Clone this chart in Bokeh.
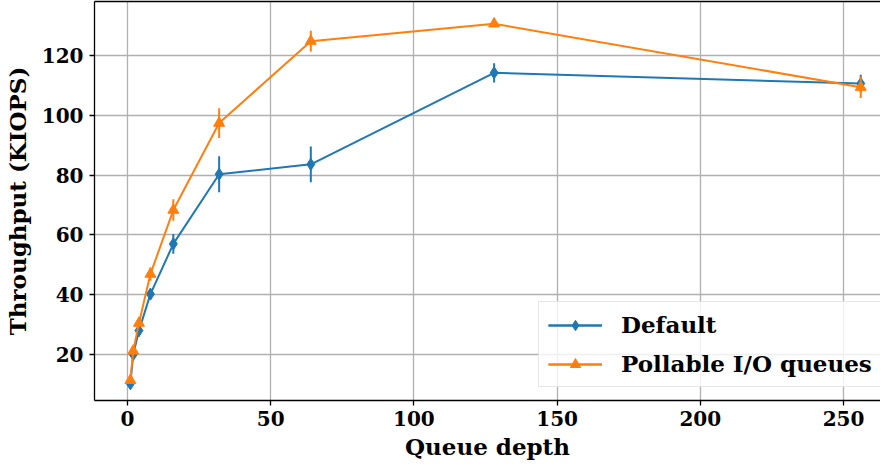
from bokeh.plotting import figure
from bokeh.models import (ColumnDataSource, Range1d, LinearAxis, FixedTicker,
                          Legend, LegendItem)
from bokeh.embed import file_html
from bokeh.resources import INLINE

queue_depth = [1, 2, 4, 8, 16, 32, 64, 128, 256]
default_kiops = [10.2, 20.0, 28.0, 40.2, 57.0, 80.3, 83.6, 114.2, 110.6]
default_err = [1.0, 1.5, 2.0, 1.8, 3.3, 6.0, 6.0, 3.2, 3.0]
pollable_kiops = [11.4, 21.2, 30.5, 46.9, 68.3, 97.4, 124.8, 130.6, 109.4]
pollable_err = [1.0, 1.5, 1.5, 2.2, 3.6, 5.0, 3.5, 1.0, 3.6]
series_names = ["Default", "Pollable I/O queues"]
x_ticks = [0, 50, 100, 150, 200, 250]
y_ticks = [20, 40, 60, 80, 100, 120]

FONT = "DejaVu Serif"
TICK_FS = "20px"
LABEL_FS = "23px"
BLUE = "#1f77b4"
ORANGE = "#ff7f0e"

p = figure(width=880, height=462, output_backend="svg", toolbar_location=None,
           x_range=Range1d(-11.52, 262.9), y_range=Range1d(4.62, 138.06),
           min_border_left=94, min_border_right=0, min_border_top=1,
           min_border_bottom=62)
p.outline_line_color = None

for ax in (p.xaxis[0], p.yaxis[0]):
    ax.axis_line_width = 1.3
    ax.axis_line_color = "black"
    ax.major_tick_line_color = "black"
    ax.major_tick_line_width = 1.3
    ax.major_tick_out = 5
    ax.major_tick_in = 0
    ax.minor_tick_line_color = None
    ax.major_label_text_font = FONT
    ax.major_label_text_font_style = "bold"
    ax.major_label_text_font_size = TICK_FS
    ax.major_label_text_color = "black"
    ax.axis_label_text_font = FONT
    ax.axis_label_text_font_style = "bold"
    ax.axis_label_text_font_size = LABEL_FS
    ax.axis_label_text_color = "black"
p.xaxis[0].ticker = FixedTicker(ticks=x_ticks)
p.yaxis[0].ticker = FixedTicker(ticks=y_ticks)
p.xaxis[0].axis_label = "Queue depth"
p.yaxis[0].axis_label = "Throughput (KIOPS)"
p.xaxis[0].major_label_standoff = 5
p.yaxis[0].major_label_standoff = 6
p.xaxis[0].axis_label_standoff = 4
p.yaxis[0].axis_label_standoff = 8

top = LinearAxis(ticker=FixedTicker(ticks=[]), axis_line_color="black",
                 axis_line_width=1.3, major_tick_line_color=None,
                 minor_tick_line_color=None)
p.add_layout(top, "above")

p.xgrid.ticker = FixedTicker(ticks=x_ticks)
p.ygrid.ticker = FixedTicker(ticks=y_ticks)
p.grid.grid_line_color = "#b0b0b0"
p.grid.grid_line_width = 1.3

items = []
for name, ys, errs, color, marker in [
        (series_names[0], default_kiops, default_err, BLUE, "diamond"),
        (series_names[1], pollable_kiops, pollable_err, ORANGE, "triangle")]:
    src = ColumnDataSource(dict(
        x=queue_depth, y=ys,
        lo=[v - e for v, e in zip(ys, errs)],
        hi=[v + e for v, e in zip(ys, errs)]))
    ln = p.line("x", "y", source=src, line_color=color, line_width=2)
    seg = p.segment("x", "lo", "x", "hi", source=src, line_color=color,
                    line_width=2)
    sc = p.scatter("x", "y", source=src, marker=marker,
                   size=12 if marker == "diamond" else 11,
                   fill_color=color, line_color=color)
    # legend-only proxy (NaN position: never drawn in the plot) giving the
    # vertical error-bar tick of the legend glyph
    proxy = ColumnDataSource(dict(x=[float("nan")]))
    bar = p.vspan(x="x", source=proxy, line_color=color, line_width=2)
    items.append(LegendItem(label=name, renderers=[ln, bar, sc]))

legend = Legend(items=items, location=(444, 13))
legend.label_text_font = FONT
legend.label_text_font_style = "bold"
legend.label_text_font_size = LABEL_FS
legend.label_text_color = "black"
legend.glyph_width = 54
legend.glyph_height = 26
legend.label_height = 26
legend.label_standoff = 19
legend.spacing = 12
legend.padding = 9
legend.border_line_color = "#cccccc"
legend.border_line_width = 1
legend.background_fill_alpha = 0.8
legend.margin = 0
p.add_layout(legend, "center")

open("out.html", "w").write(file_html(p, INLINE))
